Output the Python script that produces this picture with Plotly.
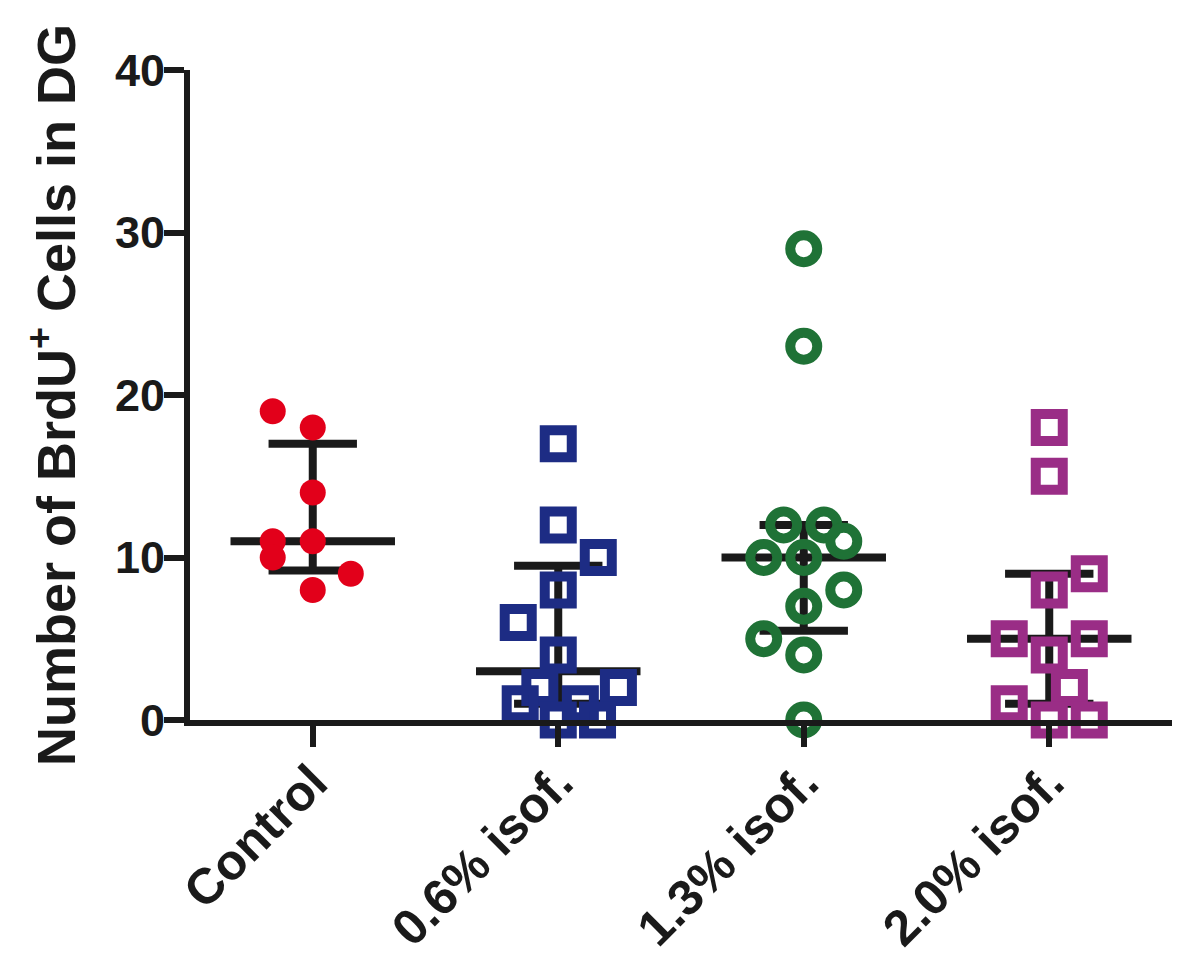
import plotly.graph_objects as go

# ---- data ----
categories = ["Control", "0.6% isof.", "1.3% isof.", "2.0% isof."]

control_vals = [19, 18, 14, 11, 11, 10, 9, 8]
iso06_vals = [17, 12, 10, 8, 6, 4, 2, 2, 1, 1, 0, 0]
iso13_vals = [29, 23, 12, 12, 11, 10, 10, 8, 7, 5, 4, 0]
iso20_vals = [18, 15, 9, 8, 5, 5, 4, 2, 1, 0, 0]

# horizontal scatter offsets (category units) as in the dot plot
control_jit = [-0.163, 0, 0, -0.163, 0, -0.163, 0.155, 0]
iso06_jit = [0, 0, 0.163, 0, -0.163, 0, -0.075, 0.245, -0.155, 0.09, 0, 0.16]
iso13_jit = [0, 0, -0.082, 0.082, 0.163, -0.163, 0, 0.163, 0, -0.163, 0, 0]
iso20_jit = [0, 0, 0.163, 0, -0.163, 0.163, 0, 0.082, -0.163, 0, 0.163]

medians = [11, 3, 10, 5]
q1 = [9.2, 1, 5.5, 1]
q3 = [17, 9.5, 12, 9]

y_ticks = [0, 10, 20, 30, 40]

colors = ["#e2001a", "#1d2c84", "#1f7236", "#9a2d86"]
symbols = ["circle", "square-open", "circle-open", "square-open"]

FONT = "Liberation Sans, Arial, sans-serif"

fig = go.Figure()

# median + interquartile range lines
med_half = 0.335
cap_half = 0.18
for i in range(len(categories)):
    xs = [i - med_half, i + med_half, None,
          i, i, None,
          i - cap_half, i + cap_half, None,
          i - cap_half, i + cap_half]
    ys = [medians[i], medians[i], None,
          q1[i], q3[i], None,
          q3[i], q3[i], None,
          q1[i], q1[i]]
    fig.add_trace(go.Scatter(x=xs, y=ys, mode="lines",
                             line=dict(color="#1a1a1a", width=8),
                             hoverinfo="skip", showlegend=False,
                             cliponaxis=False))

groups = [(control_vals, control_jit), (iso06_vals, iso06_jit),
          (iso13_vals, iso13_jit), (iso20_vals, iso20_jit)]
for i, (vals, jit) in enumerate(groups):
    xs = [i + j for j in jit]
    if symbols[i] == "circle":
        marker = dict(symbol="circle", size=26, color=colors[i],
                      line=dict(width=0))
    else:
        marker = dict(symbol=symbols[i], size=27, color=colors[i],
                      line=dict(width=10, color=colors[i]))
    fig.add_trace(go.Scatter(x=xs, y=vals, mode="markers", marker=marker,
                             name=categories[i], showlegend=False,
                             cliponaxis=False))

fig.update_layout(
    width=1192, height=969,
    margin=dict(l=182, r=28, t=62, b=257, autoexpand=False),
    plot_bgcolor="white", paper_bgcolor="white",
    font=dict(family=FONT, color="#1a1a1a", size=45, weight="bold"),
    showlegend=False,
    xaxis=dict(
        range=[-0.5, 3.5], tickmode="array", tickvals=list(range(len(categories))),
        ticktext=categories, tickangle=-45, automargin=False,
        showline=True, linecolor="#1a1a1a", linewidth=6,
        ticks="outside", ticklen=21, tickwidth=6, tickcolor="#1a1a1a",
        ticklabelstandoff=-14,
        showgrid=False, zeroline=False,
        tickfont=dict(family=FONT, size=50, color="#1a1a1a", weight="bold"),
    ),
    yaxis=dict(
        range=[0, 40], tickmode="array", tickvals=y_ticks,
        ticktext=[str(v) for v in y_ticks], automargin=False,
        showline=True, linecolor="#1a1a1a", linewidth=6,
        ticks="outside", ticklen=20, tickwidth=6, tickcolor="#1a1a1a",
        ticklabelstandoff=-10,
        showgrid=False, zeroline=False,
        tickfont=dict(family=FONT, size=45, color="#1a1a1a", weight="bold"),
        title=dict(text="Number of BrdU<sup>+</sup> Cells in DG",
                   font=dict(family=FONT, size=54, color="#1a1a1a", weight="bold"),
                   standoff=24),
    ),
)

fig.write_html("out.html")
